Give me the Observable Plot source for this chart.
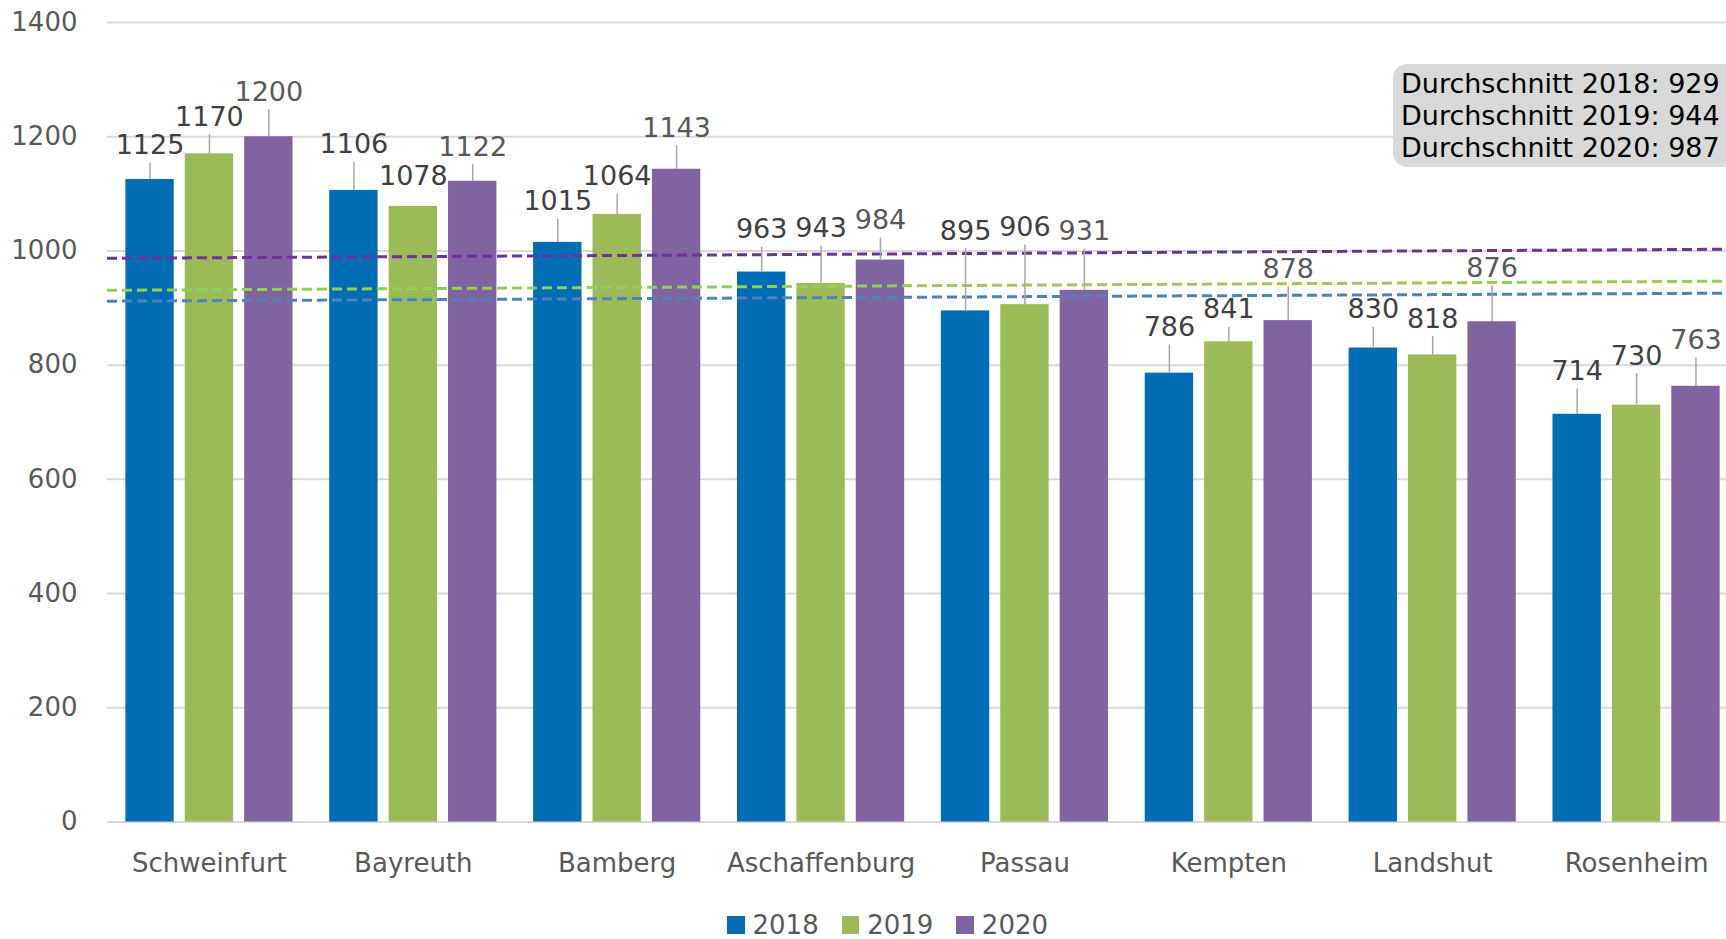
<!DOCTYPE html>
<html><head><meta charset="utf-8">
<script src="https://cdn.jsdelivr.net/npm/d3@7"></script>
<script src="https://cdn.jsdelivr.net/npm/@observablehq/plot@0.6"></script>
<style>
html,body{margin:0;padding:0;background:#fff;overflow:hidden;}
#wrap{position:relative;width:1726px;height:939px;overflow:hidden;font-family:"DejaVu Sans",Verdana,sans-serif;}
#chart{position:absolute;left:0;top:0;}
#box{position:absolute;left:1393px;top:64px;width:400px;height:103px;background:#d9d9d9;border-radius:14px;box-sizing:border-box;padding:4px 0 0 8px;font-size:27px;line-height:32px;color:#000;white-space:nowrap;}
#legend{position:absolute;left:727px;top:905px;height:40px;display:flex;align-items:center;font-size:26px;color:#595959;white-space:nowrap;}
#legend .sw{display:inline-block;width:17.5px;height:17.5px;margin-right:8px;}
#legend .it{display:flex;align-items:center;margin-right:23px;}
</style></head><body>
<div id="wrap"><div id="chart"></div><div id="box"></div><div id="legend"></div></div>
<script>
const cities = ["Schweinfurt","Bayreuth","Bamberg","Aschaffenburg","Passau","Kempten","Landshut","Rosenheim"];
const years = ["2018","2019","2020"];
const v2018 = [1125,1106,1015,963,895,786,830,714];
const v2019 = [1170,1078,1064,943,906,841,818,730];
const v2020 = [1200,1122,1143,984,931,878,876,763];
// where each data label sits (value units)
const label2018 = [1184,1186,1086,1037,1035,866,897,789];
const label2019 = [1234,1130,1130,1039,1041,897,881,816];
const label2020 = [1278,1182,1215,1053,1034,968,970,843];
const averages = [929,944,987];
const avgLineLeft = [912,931,987];
const avgLineRight = [926,947,1003];
const yTicks = [0,200,400,600,800,1000,1200,1400];
const barColors = ["#006DB5","#9BBB59","#8064A2"];
const avgColors = ["#4F81BD","#92D050","#7030A0"];
const labelColors = ["#404040","#404040","#595959"];

const series = [v2018, v2019, v2020];
const labels = [label2018, label2019, label2020];
const FONT = "DejaVu Sans, Verdana, sans-serif";
const BAR = 48.4, GAP = 11, STEP = BAR + GAP;

const yearData = years.map((y, j) => cities.map((c, i) => ({city: c, value: series[j][i], labelY: labels[j][i]})));

const barMarks = years.map((y, j) =>
  Plot.barY(yearData[j], {x: "city", y: "value", fill: barColors[j], insetLeft: j * STEP, insetRight: (2 - j) * STEP})
);
const labelMarks = years.flatMap((y, j) => {
  const off = (j - 1) * STEP;
  return [
    Plot.ruleX(yearData[j].filter(d => d.labelY - 31 - d.value > 22), {x: "city", y1: "labelY", y2: "value", dx: off, stroke: "#a6a6a6", strokeWidth: 1.5, insetTop: 17.5}),
    Plot.text(yearData[j], {x: "city", y: "labelY", dx: off, text: d => String(d.value), fill: labelColors[j], fontSize: 27})
  ];
});

const avgMarks = years.map((y, j) => Plot.ruleY([avgLineLeft[j]], {
  stroke: avgColors[j], strokeWidth: 3, strokeDasharray: "10,5",
  render(index, scales, values, dims, ctx, next) {
    const g = next(index, scales, values, dims, ctx);
    d3.select(g).selectAll("line").attr("y2", scales.y(avgLineRight[j]));
    return g;
  }
}));

const chart = Plot.plot({
  width: 1726, height: 900,
  marginTop: 22, marginBottom: 78.5, marginLeft: 107, marginRight: 0,
  style: {fontFamily: FONT, fontSize: "26px", color: "#595959", background: "transparent"},
  x: {domain: cities, range: [107, 1738], round: false, paddingInner: 0.18, paddingOuter: 0.09, label: null, tickSize: 0, tickPadding: 32},
  y: {domain: [0, 1400], ticks: yTicks, tickSize: 0, tickPadding: 30, label: null, tickFormat: d => String(d)},
  marks: [
    Plot.ruleY(yTicks, {stroke: "#d9d9d9", strokeWidth: 2}),
    ...barMarks,
    ...avgMarks,
    ...labelMarks
  ]
});
document.getElementById("chart").appendChild(chart);

document.getElementById("box").innerHTML = years.map((y, j) => `<div>Durchschnitt ${y}: ${averages[j]}</div>`).join("");
document.getElementById("legend").innerHTML = years.map((y, j) => `<span class="it"><span class="sw" style="background:${barColors[j]}"></span>${y}</span>`).join("");
</script>
</body></html>
